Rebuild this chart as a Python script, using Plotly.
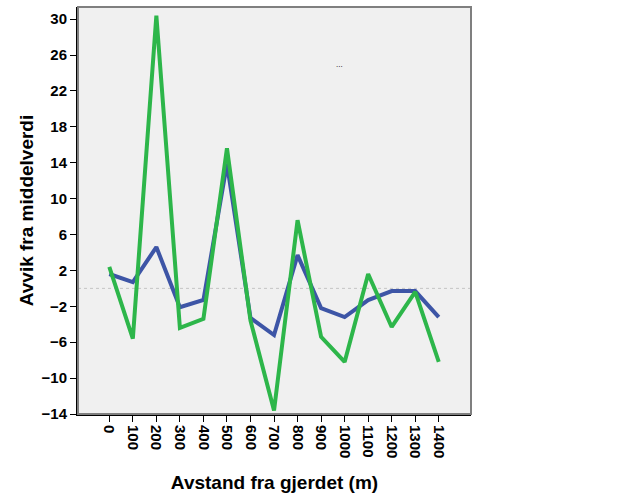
import plotly.graph_objects as go

categories = ["0", "100", "200", "300", "400", "500", "600", "700", "800", "900",
              "1000", "1100", "1200", "1300", "1400"]
blue_values = [1.6, 0.7, 4.6, -2.1, -1.3, 13.9, -3.3, -5.2, 3.7, -2.2, -3.2, -1.3, -0.3, -0.3, -3.2]
green_values = [2.4, -5.6, 30.4, -4.4, -3.4, 15.6, -3.6, -13.6, 7.6, -5.4, -8.2, 1.6, -4.3, -0.4, -8.2]
y_ticks = [30, 26, 22, 18, 14, 10, 6, 2, -2, -6, -10, -14]

font_family = "Liberation Sans, Arial, sans-serif"

fig = go.Figure()
fig.add_trace(go.Scatter(x=categories, y=blue_values, mode="lines",
                         line=dict(color="#3D55A6", width=4), showlegend=False))
fig.add_trace(go.Scatter(x=categories, y=green_values, mode="lines",
                         line=dict(color="#2DB64A", width=4), showlegend=False))

fig.add_shape(type="line", xref="paper", x0=0, x1=1, yref="y", y0=0, y1=0,
              line=dict(color="#C4C4C4", width=1, dash="3px,3px"), layer="below")
fig.add_shape(type="rect", xref="paper", yref="paper", x0=0, x1=1, y0=0, y1=1,
              line=dict(color="#7F7F7F", width=2), layer="above")

fig.add_annotation(x=0.68, y=0.875, xref="paper", yref="paper", text="...",
                   showarrow=False, font=dict(size=8, color="#000000", family=font_family))

fig.update_layout(
    width=629, height=504,
    margin=dict(l=78, r=158, t=7, b=90),
    paper_bgcolor="#FFFFFF",
    plot_bgcolor="#F0F0F0",
    font=dict(family=font_family, color="#000000"),
    xaxis=dict(
        type="category", range=[-1.33, 15.37],
        tickangle=90, ticks="outside", ticklen=6, tickcolor="#000000", tickwidth=1,
        showgrid=False, zeroline=False, showline=True, linecolor="#000000", linewidth=2,
        tickfont=dict(size=15, family=font_family, weight="bold"),
        title=dict(text="<b>Avstand fra gjerdet (m)</b>", font=dict(size=19, family=font_family), standoff=18),
    ),
    yaxis=dict(
        range=[-14, 31.35], tickvals=y_ticks,
        ticks="outside", ticklen=6, tickcolor="#000000", tickwidth=1,
        showgrid=False, zeroline=False, showline=True, linecolor="#000000", linewidth=2,
        tickfont=dict(size=15, family=font_family, weight="bold"),
        title=dict(text="<b>Avvik fra middelverdi</b>", font=dict(size=19, family=font_family), standoff=3),
    ),
)

fig.write_html("out.html")
